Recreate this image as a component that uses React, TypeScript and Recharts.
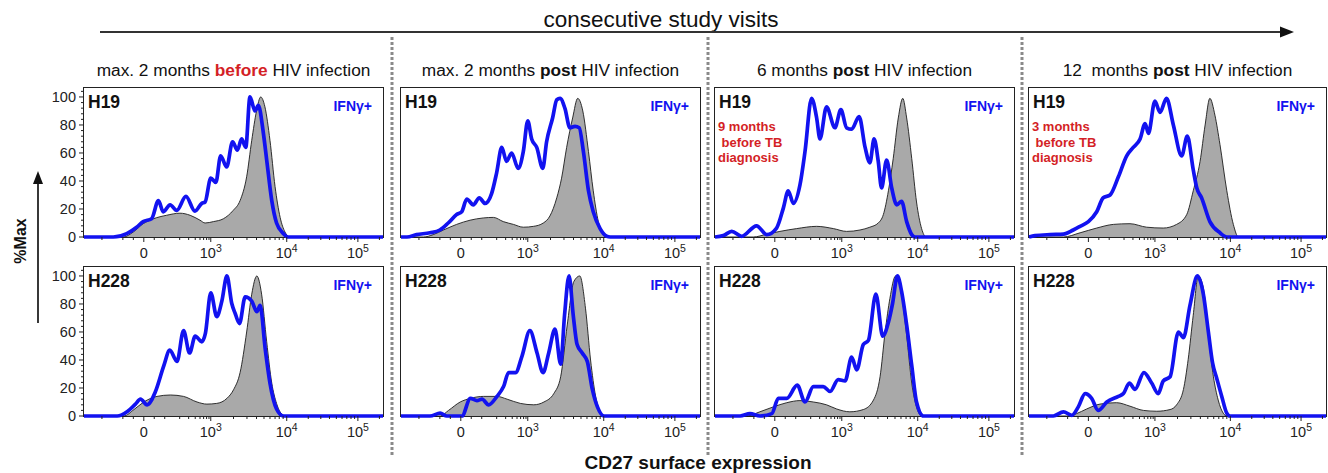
import React from "react";
import { ComposedChart, Area, Line, XAxis, YAxis } from "recharts";

// x = display channel across the plot (0..1000, biexponential CD27 scale)
// y = %Max ; each series is [channel, %Max]
const xMajorTicks = [200, 424, 678, 916];
const xTickLabels = [["0", ""], ["10", "3"], ["10", "4"], ["10", "5"]];
const xMinorTicks = [60, 130, 165, 235, 270, 320, 350, 372, 388, 400, 410, 418,
  500, 545, 577, 602, 622, 639, 653, 666,
  750, 792, 821, 844, 863, 879, 893, 905, 988];
const yMajorTicks = [0, 20, 40, 60, 80, 100];
const yMinorTicks = [4, 8, 12, 16, 24, 28, 32, 36, 44, 48, 52, 56, 64, 68, 72, 76, 84, 88, 92, 96, 104];

const columnTitles = [
  [["max. 2 months ", false, false], ["before", true, true], [" HIV infection", false, false]],
  [["max. 2 months ", false, false], ["post", true, false], [" HIV infection", false, false]],
  [["6 months ", false, false], ["post", true, false], [" HIV infection", false, false]],
  [["12  months ", false, false], ["post", true, false], [" HIV infection", false, false]],
];
const donors = ["H19", "H228"];

const h19BeforeCtrl = [[0,0],[132,0],[165,3.6],[198,9.5],[232,13],[276,15.5],[321,17],[355,15.5],[388,12],[405,10],[433,11],[466,13],[499,19],[522,26],[544,43],[561,69],[577,90],[591,100],[605,93],[622,69],[639,36],[656,14],[672,3.6],[687,0],[1000,0]];
const h19BeforeIfn = [[0,0],[98,0],[143,2.4],[176,7],[198,11],[226,13],[249,26],[265,18],[288,23],[310,19],[341,29],[371,18.5],[394,24],[405,25],[424,42],[441,39],[457,58],[477,50],[497,68],[513,62],[527,70],[541,64],[555,100],[572,90],[583,94],[600,74],[611,55],[628,26],[644,10],[667,2.4],[683,0],[1000,0]];

const h19Post2Ctrl = [[0,0],[75,0],[108,1.7],[142,5],[186,9],[231,12],[275,13.6],[309,14],[342,11],[376,9],[409,7],[443,7.6],[476,10],[498,15],[521,28],[537,42],[554,64],[574,85],[591,99],[608,90],[627,61],[643,33],[660,11],[677,1.7],[688,0],[1000,0]];
const h19Post2Ifn = [[0,0],[20,0],[52,1.7],[97,3],[130,5],[158,10],[186,16],[203,18],[220,27],[242,23],[262,28],[281,24],[303,31],[320,46],[337,64],[353,54],[370,60],[392,49],[409,61],[424,83],[437,70],[454,64],[474,49],[487,68],[507,85],[521,98],[532,99],[548,92],[565,78],[582,79],[596,78],[610,61],[627,33],[643,18],[666,6],[688,0.5],[700,0],[1000,0]];

const h19Month6Ctrl = [[0,0],[128,0],[173,2],[217,4],[273,6],[340,7.6],[396,6],[440,4],[485,5],[518,7],[546,10],[563,16],[580,33],[596,56],[613,85],[628,99],[641,85],[658,56],[674,25],[691,6],[706,0],[1000,0]];
const h19Month6Ifn = [[0,0],[28,1],[56,4],[89,0.5],[139,8],[173,1.7],[206,6.4],[229,21],[245,33],[262,24],[284,37],[301,61],[323,99],[340,85],[351,70],[373,93],[401,78],[421,91],[440,78],[457,77],[482,86],[502,64],[518,53],[532,70],[546,54],[557,35],[574,55],[591,35],[608,23],[624,25.5],[641,11],[658,1.7],[669,0],[1000,0]];

const h19Month12Ctrl = [[0,0],[116,0],[172,3],[228,6.4],[284,9],[340,9.5],[396,7],[452,6.4],[497,9],[531,16],[553,33],[576,54],[593,80],[609,99],[626,87],[643,66],[666,33],[688,9],[705,0],[1000,0]];
const h19Month12Ifn = [[0,0],[20,1],[71,1.7],[116,2],[149,5],[172,7.6],[200,11],[228,18],[250,28],[273,30],[301,43],[329,58],[351,64],[374,70],[391,81],[402,74],[424,97],[441,89],[463,99],[486,80],[514,58],[533,72],[553,48],[565,35],[581,28],[609,11],[643,3],[666,0],[1000,0]];

const h228BeforeCtrl = [[0,0],[133,0],[167,4.6],[200,10],[244,14],[289,15],[333,14],[378,10],[411,8.5],[444,9],[478,12.6],[500,18.7],[522,31],[544,60],[561,87],[578,100],[594,87],[611,53],[628,23.5],[644,9],[667,0.5],[678,0],[1000,0]];
const h228BeforeIfn = [[0,0],[111,0],[144,3],[172,8.5],[189,12],[211,8],[239,17.5],[267,36],[287,47],[311,39],[333,61],[353,45],[372,57],[394,53],[406,59],[424,88],[444,71],[461,82],[478,100],[494,80.5],[506,73],[520,66],[539,85],[561,82],[578,74.5],[589,79],[606,48],[622,23.5],[644,5],[667,0],[1000,0]];

const h228Post2Ctrl = [[0,0],[131,0],[159,4],[198,10],[232,12.6],[276,14],[321,14],[355,12],[399,9],[444,8],[478,10],[511,16],[534,28],[556,65],[578,96],[598,100],[617,77],[634,40],[651,14],[668,2],[679,0],[1000,0]];
const h228Post2Ifn = [[0,0],[97,0],[131,2],[153,0],[204,0],[232,12.6],[254,11],[271,12],[293,8],[321,14],[343,21],[360,31],[383,31],[405,43],[431,61],[455,45],[475,31],[494,45],[515,62],[534,37],[547,72],[562,100],[576,72],[589,51],[606,45],[623,39],[640,19],[657,6.5],[679,0],[1000,0]];

const h228Month6Ctrl = [[0,0],[106,0],[150,3],[195,6.5],[240,9.5],[284,11],[329,10],[373,8],[407,5],[451,3],[496,4.6],[530,11.4],[552,28],[569,60],[585,84],[604,100],[624,87],[641,57.5],[658,23.5],[674,6.5],[691,0],[1000,0]];
const h228Month6Ifn = [[0,0],[84,0],[117,1.7],[150,0],[190,1.7],[212,12.6],[240,12.6],[275,22],[301,10],[329,21],[362,21],[385,17.5],[412,26],[435,25],[457,42],[474,33],[496,51],[513,54],[538,87],[561,57],[580,67],[594,80.5],[610,100],[624,89],[641,65],[658,36],[674,10],[697,0],[1000,0]];

const h228Month12Ctrl = [[0,0],[127,0],[160,1.7],[194,5],[239,8.5],[295,9.5],[340,7],[385,4],[430,3.4],[475,4.6],[497,8],[520,19],[536,40.5],[553,72],[570,100],[587,91.5],[604,57.5],[621,28],[637,11.4],[654,2],[666,0],[1000,0]];
const h228Month12Ifn = [[0,0],[82,0],[116,3],[144,0.5],[166,6.5],[189,16],[211,12.6],[233,4],[262,10],[301,14],[318,16],[338,23.5],[357,19],[387,31],[413,23.5],[435,16],[452,25],[475,28],[503,60],[520,56],[542,79],[567,100],[587,87],[604,60],[618,38],[632,27],[649,14],[666,2],[677,0],[1000,0]];

const tbNotes = [null, null, ["9 months", " before TB", "diagnosis"], ["3 months", " before TB", "diagnosis"]];

const FONT = "'Liberation Sans', Arial, Helvetica, sans-serif";
const Y_MAX = 106.4;
const BLUE = "#1212f0";
const RED = "#d41f26";

const colLeft = [84, 401, 715, 1029];
const colWidth = [299, 299, 299, 297];
const rowTop = [88, 267];
const PH = 149;

const merge = (ctrl: number[][], ifn: number[][]) => {
  const xs = Array.from(new Set([...ctrl.map((p) => p[0]), ...ifn.map((p) => p[0])])).sort((a, b) => a - b);
  const c = new Map(ctrl.map((p) => [p[0], p[1]] as [number, number]));
  const i = new Map(ifn.map((p) => [p[0], p[1]] as [number, number]));
  return xs.map((x) => ({ x, ctrl: c.get(x), ifn: i.get(x) }));
};

const panels = [
  [h19BeforeCtrl, h19BeforeIfn], [h19Post2Ctrl, h19Post2Ifn], [h19Month6Ctrl, h19Month6Ifn], [h19Month12Ctrl, h19Month12Ifn],
  [h228BeforeCtrl, h228BeforeIfn], [h228Post2Ctrl, h228Post2Ifn], [h228Month6Ctrl, h228Month6Ifn], [h228Month12Ctrl, h228Month12Ifn],
];

const renderXTick = (props: any) => {
  const { x, y, payload } = props;
  const idx = xMajorTicks.indexOf(payload.value);
  if (idx < 0) {
    return <line x1={x} y1={y} x2={x} y2={y + 3} stroke="#222" strokeWidth={1} />;
  }
  const [base, exp] = xTickLabels[idx];
  return (
    <g>
      <line x1={x} y1={y} x2={x} y2={y + 5} stroke="#222" strokeWidth={1} />
      <text x={x} y={y + 21} textAnchor="middle" fontSize={14.5} fill="#222" fontFamily={FONT}>
        {base}
        {exp ? <tspan dy={-6} fontSize={10.5}>{exp}</tspan> : null}
      </text>
    </g>
  );
};

const renderYTick = (props: any) => {
  const { x, y, payload } = props;
  const major = payload.value % 20 === 0;
  return (
    <g>
      <line x1={x - (major ? 5 : 3)} y1={y} x2={x} y2={y} stroke="#222" strokeWidth={1} />
      {major ? (
        <text x={x - 8} y={y} dy="0.36em" textAnchor="end" fontSize={14.5} fill="#222" fontFamily={FONT}>
          {payload.value}
        </text>
      ) : null}
    </g>
  );
};

const Panel = ({ row, col }: { row: number; col: number }) => {
  const L = colLeft[col];
  const W = colWidth[col];
  const T = rowTop[row];
  const [ctrl, ifn] = panels[row * 4 + col];
  const rows = merge(ctrl, ifn);
  const showY = col === 0;
  return (
    <>
      <div
        style={{
          position: "absolute",
          left: L - 1,
          top: T - 1,
          width: W + 2,
          height: PH + 2,
          border: "1.5px solid #222",
          boxSizing: "border-box",
        }}
      />
      <div style={{ position: "absolute", left: L - 50, top: T - 4 }}>
        <ComposedChart
          width={W + 54}
          height={PH + 38}
          data={rows}
          margin={{ top: 4, right: 4, bottom: 0, left: showY ? 0 : 50 }}
        >
          <XAxis
            dataKey="x"
            type="number"
            domain={[0, 1000]}
            ticks={[...xMajorTicks, ...xMinorTicks]}
            interval={0}
            axisLine={false}
            tickLine={false}
            tickSize={0}
            tickMargin={0}
            height={34}
            tick={renderXTick}
          />
          {showY ? (
            <YAxis
              type="number"
              domain={[0, Y_MAX]}
              ticks={[...yMajorTicks, ...yMinorTicks]}
              interval={0}
              width={50}
              axisLine={false}
              tickLine={false}
              tickSize={0}
              tickMargin={0}
              tick={renderYTick}
            />
          ) : (
            <YAxis hide type="number" domain={[0, Y_MAX]} />
          )}
          <Area
            type="monotone"
            dataKey="ctrl"
            stroke="#1c1c1c"
            strokeWidth={0.9}
            fill="#a9a9a9"
            fillOpacity={1}
            connectNulls
            dot={false}
            activeDot={false}
            isAnimationActive={false}
          />
          <Line
            type="monotone"
            dataKey="ifn"
            stroke={BLUE}
            strokeWidth={3.7}
            dot={false}
            activeDot={false}
            connectNulls
            isAnimationActive={false}
          />
        </ComposedChart>
      </div>
    </>
  );
};

export default function App() {
  const separators = [392, 708, 1022];
  return (
    <div style={{ position: "absolute", left: 0, top: 0, width: 1328, height: 473, background: "#fff", fontFamily: FONT }}>
      <svg width={1328} height={473} style={{ position: "absolute", left: 0, top: 0 }}>
        <text x={661} y={27} textAnchor="middle" fontSize={22.5} fill="#111" fontFamily={FONT}>
          consecutive study visits
        </text>
        <line x1={100} y1={32} x2={1283} y2={32} stroke="#333" strokeWidth={2} />
        <polygon points="1294,32 1280,26.5 1280,37.5" fill="#111" />
        {separators.map((sx) => (
          <line key={sx} x1={sx} y1={37} x2={sx} y2={456} stroke="#8a8a8a" strokeWidth={3} strokeDasharray="3 2" />
        ))}
        {columnTitles.map((parts, c) => (
          <text key={c} x={colLeft[c] + colWidth[c] / 2} y={76} textAnchor="middle" fontSize={17.3} fill="#111" fontFamily={FONT}>
            {parts.map((p, k) => (
              <tspan key={k} fontWeight={p[1] ? "bold" : "normal"} fill={p[2] ? RED : "#111"} style={{ whiteSpace: "pre" }}>
                {p[0] as string}
              </tspan>
            ))}
          </text>
        ))}
        {rowTop.map((T, r) =>
          colLeft.map((L, c) => (
            <g key={`${r}-${c}`}>
              <text x={L + 4} y={T + 20} fontSize={17.5} fontWeight="bold" fill="#111" fontFamily={FONT}>
                {donors[r]}
              </text>
              <text x={L + colWidth[c] - 11} y={T + 23} textAnchor="end" fontSize={14} fontWeight="bold" fill={BLUE} fontFamily={FONT}>
                IFNγ+
              </text>
            </g>
          ))
        )}
        {tbNotes.map((note, c) =>
          note ? (
            <text key={c} fontSize={13} fontWeight="bold" fill={RED} fontFamily={FONT} style={{ whiteSpace: "pre" }}>
              {note.map((ln, k) => (
                <tspan key={k} x={colLeft[c] + 3} y={rowTop[0] + 43 + k * 15.5}>
                  {ln}
                </tspan>
              ))}
            </text>
          ) : null
        )}
        <text transform="translate(26,241) rotate(-90)" textAnchor="middle" fontSize={16} fontWeight="bold" fill="#111" fontFamily={FONT}>
          %Max
        </text>
        <line x1={38} y1={323} x2={38} y2={182} stroke="#222" strokeWidth={1.8} />
        <polygon points="38,171 33,184 43,184" fill="#111" />
        <text x={698} y={469} textAnchor="middle" fontSize={19} fontWeight="bold" fill="#111" fontFamily={FONT}>
          CD27 surface expression
        </text>
      </svg>
      {rowTop.map((_, r) => colLeft.map((__, c) => <Panel key={`${r}-${c}`} row={r} col={c} />))}
    </div>
  );
}
